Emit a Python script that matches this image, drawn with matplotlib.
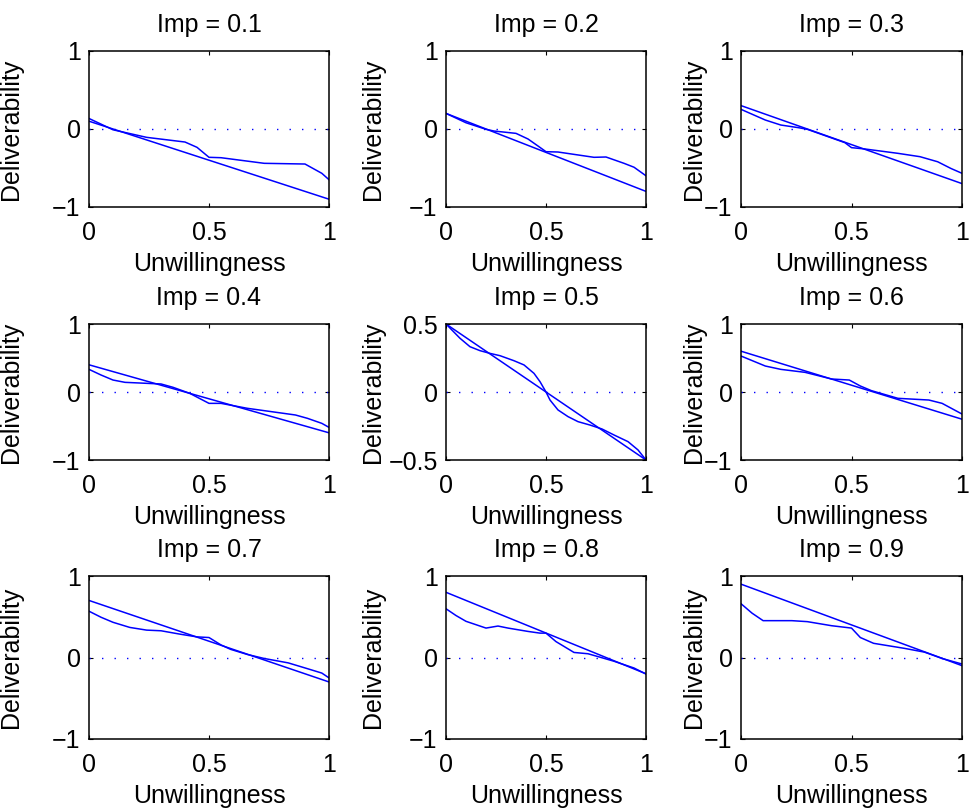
import matplotlib
matplotlib.use("Agg")
import matplotlib.pyplot as plt
import numpy as np

plt.rcParams['font.family'] = ['Liberation Sans', 'DejaVu Sans']
plt.rcParams['font.size'] = 18

# importance values, one panel each
imps = [0.1, 0.2, 0.3, 0.4, 0.5, 0.6, 0.7, 0.8, 0.9]

# simulated deliverability curves (x, y) per panel
curve_x = [
    [0, 0.10, 0.24, 0.40, 0.45, 0.50, 0.55, 0.73, 0.90, 0.97, 1.0],
    [0, 0.10, 0.20, 0.24, 0.35, 0.41, 0.46, 0.50, 0.56, 0.74, 0.80, 0.89, 0.94, 1.0],
    [0, 0.11, 0.18, 0.26, 0.30, 0.47, 0.50, 0.56, 0.71, 0.81, 0.89, 0.95, 1.0],
    [0, 0.05, 0.10, 0.15, 0.30, 0.35, 0.42, 0.50, 0.55, 0.66, 0.86, 0.91, 0.97, 1.0],
    [0, 0.07, 0.12, 0.17, 0.22, 0.27, 0.34, 0.39, 0.44, 0.47, 0.50, 0.52, 0.56, 0.61, 0.66,
     0.72, 0.78, 0.84, 0.91, 0.96, 1.0],
    [0, 0.11, 0.18, 0.29, 0.41, 0.49, 0.54, 0.59, 0.71, 0.85, 0.91, 1.0],
    [0, 0.05, 0.10, 0.17, 0.24, 0.30, 0.38, 0.45, 0.50, 0.55, 0.59, 0.66, 0.73, 0.83, 0.91, 0.97, 1.0],
    [0, 0.05, 0.10, 0.20, 0.26, 0.31, 0.41, 0.47, 0.50, 0.55, 0.64, 0.71, 0.77, 0.84, 0.94, 1.0],
    [0, 0.05, 0.10, 0.23, 0.30, 0.41, 0.50, 0.54, 0.60, 0.74, 0.83, 0.91, 1.0],
]
curve_y = [
    [0.135, -0.01, -0.107, -0.167, -0.235, -0.363, -0.368, -0.44, -0.449, -0.568, -0.65],
    [0.2, 0.08, -0.004, -0.026, -0.056, -0.128, -0.218, -0.291, -0.295, -0.363, -0.359, -0.44, -0.49, -0.60],
    [0.252, 0.115, 0.051, 0.017, -0.004, -0.175, -0.239, -0.256, -0.312, -0.355, -0.42, -0.506, -0.568],
    [0.333, 0.25, 0.176, 0.142, 0.118, 0.069, -0.02, -0.167, -0.167, -0.24, -0.338, -0.387, -0.461, -0.52],
    [0.5, 0.395, 0.333, 0.304, 0.284, 0.267, 0.23, 0.199, 0.137, 0.076, 0.0, -0.059, -0.132, -0.181,
     -0.218, -0.243, -0.272, -0.316, -0.365, -0.426, -0.5],
    [0.529, 0.382, 0.333, 0.289, 0.191, 0.176, 0.088, 0.02, -0.093, -0.118, -0.167, -0.324],
    [0.568, 0.494, 0.432, 0.369, 0.336, 0.328, 0.286, 0.253, 0.245, 0.154, 0.10, 0.037, -0.012,
     -0.066, -0.137, -0.191, -0.25],
    [0.598, 0.515, 0.444, 0.361, 0.386, 0.361, 0.32, 0.299, 0.299, 0.195, 0.062, 0.046, 0.004,
     -0.046, -0.129, -0.203],
    [0.66, 0.544, 0.452, 0.452, 0.44, 0.39, 0.361, 0.245, 0.174, 0.112, 0.066, -0.012, -0.08],
]

# panel boxes in pixels (left, right) and (top, bottom)
W, H = 969, 811
cols = [(89, 329), (446, 646), (741, 962)]
rows = [(51, 207), (324, 460), (576, 739)]
ylab_x = [-0.275, -0.305, -0.16]

fig = plt.figure(figsize=(W / 100, H / 100), dpi=100)

for i, imp in enumerate(imps):
    r, c = divmod(i, 3)
    l, rr = cols[c]
    t, b = rows[r]
    ax = fig.add_axes([l / W, 1 - b / H, (rr - l) / W, (b - t) / H])

    # analytic line: deliverability = imp - unwillingness
    ax.plot([0, 1], [imp, imp - 1], color='b', lw=1.1)
    ax.plot(curve_x[i], curve_y[i], color='b', lw=1.1)
    ax.plot([0, 1], [0, 0], color='b', lw=1.0, dashes=(1, 8))

    ax.set_xlim(0, 1)
    if imp == 0.5:
        ax.set_ylim(-0.5, 0.5)
        ax.set_yticks([-0.5, 0, 0.5])
        ax.set_yticklabels(['\u22120.5', '0', '0.5'])
    else:
        ax.set_ylim(-1, 1)
        ax.set_yticks([-1, 0, 1])
        ax.set_yticklabels(['\u22121', '0', '1'])
    ax.set_xticks([0, 0.5, 1])
    ax.set_xticklabels(['0', '0.5', '1'])
    ax.tick_params(direction='in', length=3, width=0.8, top=True, right=True)
    ax.tick_params(axis='x', pad=10)
    ax.tick_params(axis='y', pad=6)
    for s in ax.spines.values():
        s.set_linewidth(1.1)

    ax.set_title(f'Imp = {imp}', pad=14, fontsize=18)
    ax.set_xlabel('Unwillingness', labelpad=5)
    ax.set_ylabel('Deliverability')
    ax.yaxis.set_label_coords(ylab_x[c], 0.5)

fig.savefig('out.png', dpi=100)
